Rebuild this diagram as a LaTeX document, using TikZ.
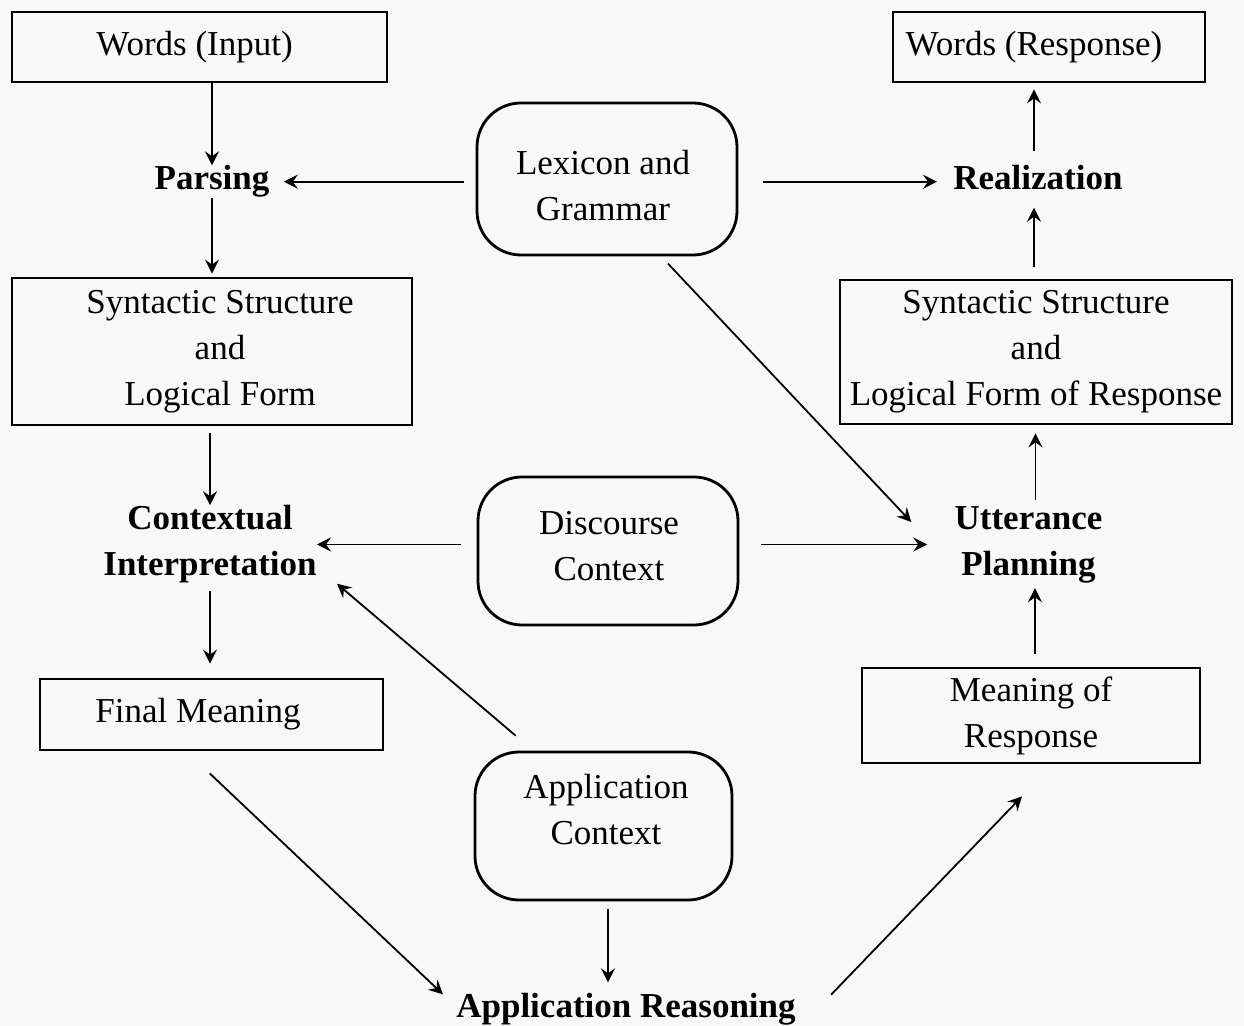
\documentclass[tikz,border=0pt]{standalone}
\usepackage{fontspec}
\setmainfont{Liberation Serif}
\usetikzlibrary{arrows.meta}
\begin{document}
\begin{tikzpicture}[x=0.5pt,y=-0.5pt,
  every node/.style={font=\fontsize{17.5}{23}\selectfont},
  box/.style={draw,line width=1.4pt,align=center,inner sep=0pt},
  rbox/.style={draw,line width=1.4pt,rounded corners=22pt,inner sep=0pt},
  txt/.style={align=center,inner sep=0pt},
  lbl/.style={font=\fontsize{17.5}{23}\selectfont\bfseries,align=center,inner sep=0pt},
  arr/.style={-{Stealth[length=7pt,width=7pt,inset=2.5pt]},line width=0.9pt}]
\useasboundingbox[fill={rgb,255:red,248;green,248;blue,248}] (0,0) rectangle (1244,1026);
% boxes
\node[box,minimum width=187.5pt,minimum height=35pt] (win) at (199.5,47) {Words (Input)\hspace*{5pt}};
\node[box,minimum width=156pt,minimum height=35pt] (wresp) at (1049,47) {Words (Response)\hspace*{15pt}};
\node[box,minimum width=200pt,minimum height=73.5pt] (syn1) at (212,351.5)
  {\hspace*{8pt}Syntactic Structure\\\hspace*{8pt}and\\\hspace*{8pt}Logical Form};
\node[box,minimum width=196pt,minimum height=72pt] (syn2) at (1036,352)
  {Syntactic Structure\\and\\Logical Form of Response};
\node[box,minimum width=171.5pt,minimum height=35.5pt] (fin) at (211.5,714.5) {Final Meaning\hspace*{13.5pt}};
\node[box,minimum width=169pt,minimum height=47.5pt] (mresp) at (1031,715.5) {Meaning of\\Response};
% rounded boxes
\node[rbox,minimum width=130pt,minimum height=76pt] (lex) at (607,179) {};
\node[txt] (lext) at (603,185.5) {Lexicon and\\Grammar};
\node[rbox,minimum width=130pt,minimum height=74pt] (disc) at (608,551) {};
\node[txt] (disct) at (609,546) {Discourse\\Context};
\node[rbox,minimum width=128.5pt,minimum height=74pt] (appc) at (603.5,826) {};
\node[txt] (appct) at (606,810) {Application\\Context};
% bold labels
\node[lbl,anchor=base] (pars) at (212,190) {Parsing};
\node[lbl,anchor=base] (real) at (1038,190) {Realization};
\node[lbl] (ctx) at (210,544.5) {Contextual\\Interpretation};
\node[lbl] (utt) at (1028.5,544.5) {Utterance\\Planning};
\node[lbl,anchor=base] (appr) at (626,1017) {Application Reasoning};
% arrows
\draw[arr] (pars.north |- win.south) -- (pars.north);
\draw[arr,shorten >=1.5pt] (pars.south) -- (pars.south |- syn1.north);
\draw[arr,shorten <=6pt,shorten >=7pt] (lex.west |- pars.east) -- (pars.east);
\draw[arr,shorten <=12.5pt,shorten >=8pt] (lex.east |- pars.east) -- (real.west |- pars.east);
\draw[arr,shorten <=7pt,shorten >=3pt] ([xshift=-2pt]real.north) -- ([xshift=-2pt]real.north |- wresp.south);
\draw[arr,shorten <=6pt,shorten >=8.5pt] ([xshift=-2pt]real.south |- syn2.north) -- ([xshift=-2pt]real.south);
\draw[arr,shorten <=5pt] (lex.-55) -- ([xshift=-21.5pt,yshift=11.25pt]utt.west);
\draw[arr,shorten <=3.5pt] (ctx.north |- syn1.south) -- (ctx.north);
\draw[arr,shorten <=8pt] (disc.west |- ctx.east) -- (ctx.east);
\draw[arr,shorten <=11pt,shorten >=13.5pt] (disc.east |- utt.west) -- (utt.west);
\draw[arr,shorten <=3pt,shorten >=4pt] ([xshift=3.5pt]utt.north) -- ([xshift=3.5pt]utt.north |- syn2.south);
\draw[arr,shorten <=6.5pt,shorten >=2.5pt] ([xshift=2pt]mresp.north) -- ([xshift=2pt]mresp.north |- utt.south);
\draw[arr,shorten <=3.5pt,shorten >=7pt] (ctx.south) -- (ctx.south |- fin.north);
\draw[arr,shorten <=11.5pt] (appc.133) -- ([xshift=10pt]ctx.south east);
\draw[arr,shorten <=16pt] ([xshift=-12.5pt]fin.south) -- ([xshift=-6.5pt,yshift=-1pt]appr.north west);
\draw[arr,shorten <=4pt,shorten >=5pt] ([xshift=2.25pt]appc.south) -- ([xshift=2.25pt]appc.south |- appr.north);
\draw[arr] ([xshift=17.5pt,yshift=7pt]appr.east) -- ([xshift=-4.5pt,yshift=-16pt]mresp.south);
\end{tikzpicture}
\end{document}
